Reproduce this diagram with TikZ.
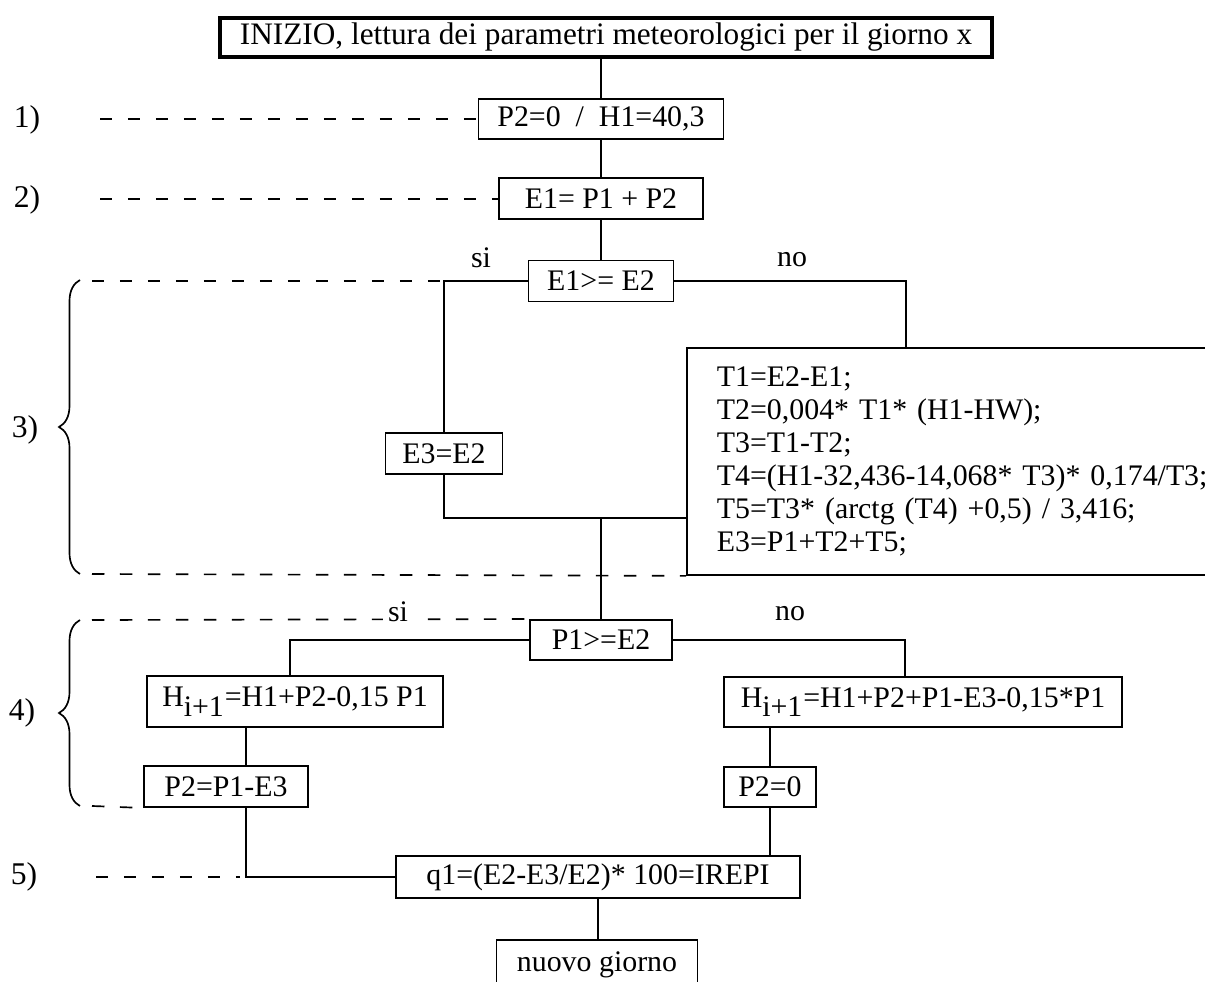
\documentclass[tikz,border=0pt]{standalone}
\usepackage{fontspec}
\setmainfont{Liberation Serif}
\usetikzlibrary{decorations.pathreplacing}
\begin{document}
\begin{tikzpicture}[x=0.02cm,y=-0.02cm,
  font=\fontsize{17}{18.8}\selectfont,
  box/.style={draw, line width=1.1pt, inner sep=0pt, align=center},
  conn/.style={line width=0.95pt},
  dashline/.style={line width=0.95pt, dash pattern=on 0.25cm off 0.31cm},
  bracestyle/.style={line width=0.95pt, decorate, decoration={brace, amplitude=0.42cm}},
  lbl/.style={inner sep=0pt, font=\fontsize{18}{20}\selectfont}
]
\useasboundingbox (0,0) rectangle (1205,982);
\fill[white] (0,0) rectangle (1205,982);

% boxes
\node[box, line width=1.8pt, minimum width=15.44cm, minimum height=0.78cm, font=\fontsize{17.8}{19.5}\selectfont] (inizio) at (606,37.5) {INIZIO, lettura dei parametri meteorologici per il giorno x};
\node[box, minimum width=4.9cm, minimum height=0.8cm] (p2a) at (601,119) {P2=0\ \ /\ \ H1=40,3};
\node[box, minimum width=4.08cm, minimum height=0.82cm] (e1) at (601,198.5) {E1= P1 + P2};
\node[box, minimum width=2.9cm, minimum height=0.82cm] (cmp1) at (601,281) {E1>= E2};
\node[box, minimum width=2.34cm, minimum height=0.82cm] (e3) at (444,453.5) {E3=E2};
\node[box, anchor=north west, minimum width=11.4cm, minimum height=4.54cm, text width=10.2cm, inner xsep=0.6cm, align=left, font=\fontsize{17}{18.8}\selectfont] (big) at (686,347) {T1=E2-E1;\\T2=0,004* T1* (H1-HW);\\T3=T1-T2;\\T4=(H1-32,436-14,068* T3)* 0,174/T3;\\T5=T3* (arctg (T4) +0,5) / 3,416;\\E3=P1+T2+T5;};
\node[box, minimum width=2.84cm, minimum height=0.8cm] (cmp2) at (601,640) {P1>=E2};
\node[box, minimum width=5.92cm, minimum height=1.02cm] (hl) at (295,701.5) {H$_{\textrm{i+1}}$=H1+P2-0,15 P1};
\node[box, minimum width=7.96cm, minimum height=1.0cm] (hr) at (923,702) {H$_{\textrm{i+1}}$=H1+P2+P1-E3-0,15*P1};
\node[box, minimum width=3.28cm, minimum height=0.82cm] (p2l) at (226,786.5) {P2=P1-E3};
\node[box, minimum width=1.84cm, minimum height=0.8cm] (p2r) at (770,787) {P2=0};
\node[box, minimum width=8.08cm, minimum height=0.84cm] (q1) at (598,877) {q1=(E2-E3/E2)* 100=IREPI};
\node[box, minimum width=4.02cm, minimum height=1.0cm] (nuovo) at (597,965) {\raisebox{0.12cm}{nuovo giorno}};

% labels
\node[lbl] (l1) at (27,120) {1)};
\node[lbl] (l2) at (27,200) {2)};
\node[lbl] (l3) at (25,430) {3)};
\node[lbl] (l4) at (22,713) {4)};
\node[lbl] (l5) at (24,877) {5)};
\node[inner sep=0pt] (si1) at (481,258) {si};
\node[inner sep=0pt] (no1) at (792,260) {no};
\node[inner sep=0pt] (no2) at (790,614) {no};

% helper coordinates
\coordinate (xr3) at (906,0);
\coordinate (m3) at (601,518);
\coordinate (xr4) at (905,0);
\coordinate (xl4) at (290,0);
\coordinate (xl5) at (246,0);

% connectors
\draw[conn] (inizio.south -| p2a.north) -- (p2a.north);
\draw[conn] (p2a.south) -- (e1.north);
\draw[conn] (e1.south) -- (cmp1.north);
\draw[conn] (cmp1.west) -| (e3.north);
\draw[conn] (cmp1.east) -| (big.north -| xr3);
\draw[conn] (e3.south) |- (big.west |- m3);
\draw[conn] (m3) -- (cmp2.north);
\draw[conn] (cmp2.west) -| (hl.north -| xl4);
\draw[conn] (cmp2.east) -| (hr.north -| xr4);
\draw[conn] (hl.south -| xl5) -- (p2l.north -| xl5);
\draw[conn] (p2l.south -| xl5) |- (q1.west);
\draw[conn] (hr.south -| p2r.north) -- (p2r.north);
\draw[conn] (p2r.south) -- (p2r.south |- q1.north);
\draw[conn] (q1.south) -- (q1.south |- nuovo.north);

% dashed guides
\draw[dashline] (100,119) -- (p2a.west);
\draw[dashline] (100,199) -- (e1.west |- 0,199);
\draw[bracestyle] (80,574) -- (80,280);
\draw[dashline] (92,281) -- (442,281);
\draw[dashline] (92,574) -- (big.south west);
\draw[bracestyle] (80,806) -- (80,620);
\draw[dashline] (92,620) -- (cmp2.north west);
\draw[dashline] (92,806) -- (p2l.south west);
\draw[dashline] (96,877) -- (240,877);
\node[inner sep=0pt, fill=white, inner xsep=3pt, inner ysep=1pt] (si2) at (398,612) {si};
\end{tikzpicture}
\end{document}
